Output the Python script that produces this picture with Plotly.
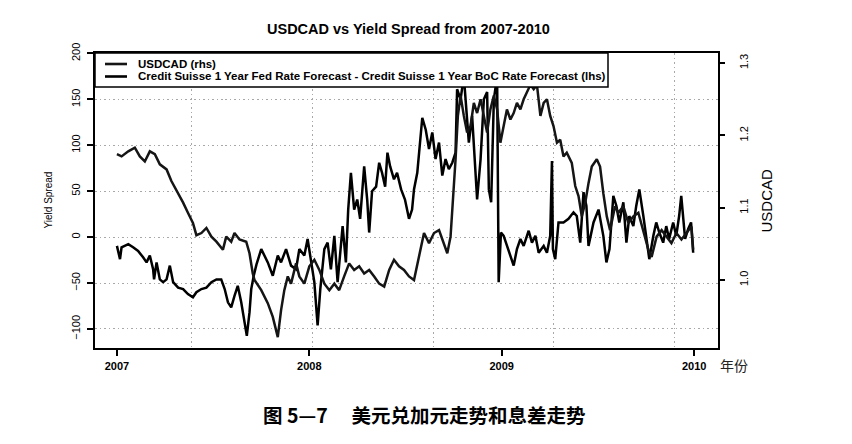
import plotly.graph_objects as go

# ---- data (time in decimal years) ----
spread_t = [2007.000, 2007.016, 2007.024, 2007.059, 2007.084, 2007.110, 2007.136, 2007.154, 2007.171, 2007.188,
            2007.193, 2007.206, 2007.223, 2007.240, 2007.258, 2007.275, 2007.292, 2007.318, 2007.344, 2007.369,
            2007.395, 2007.413, 2007.439, 2007.465, 2007.491, 2007.517, 2007.542, 2007.560, 2007.577, 2007.594,
            2007.611, 2007.628, 2007.646, 2007.663, 2007.675, 2007.689, 2007.698, 2007.711, 2007.725, 2007.750,
            2007.784, 2007.810, 2007.836, 2007.853, 2007.879, 2007.905, 2007.931, 2007.948, 2007.974, 2007.991,
            2008.009, 2008.026, 2008.043, 2008.057, 2008.078, 2008.095, 2008.112, 2008.130, 2008.147, 2008.173,
            2008.190, 2008.202, 2008.216, 2008.233, 2008.249, 2008.264, 2008.285, 2008.301, 2008.311, 2008.326,
            2008.347, 2008.363, 2008.378, 2008.394, 2008.406, 2008.420, 2008.440, 2008.456, 2008.477, 2008.497,
            2008.518, 2008.534, 2008.544, 2008.561, 2008.587, 2008.605, 2008.622, 2008.639, 2008.656, 2008.674,
            2008.691, 2008.708, 2008.725, 2008.743, 2008.760, 2008.768, 2008.786, 2008.803, 2008.829, 2008.846,
            2008.872, 2008.890, 2008.907, 2008.924, 2008.933, 2008.945, 2008.959, 2008.976, 2008.984, 2008.996,
            2009.010, 2009.027, 2009.045, 2009.062, 2009.079, 2009.097, 2009.114, 2009.140, 2009.157, 2009.175,
            2009.192, 2009.218, 2009.235, 2009.252, 2009.261, 2009.266, 2009.278, 2009.295, 2009.321, 2009.347,
            2009.373, 2009.390, 2009.408, 2009.425, 2009.440, 2009.451, 2009.477, 2009.503, 2009.528, 2009.544,
            2009.560, 2009.580, 2009.596, 2009.611, 2009.632, 2009.648, 2009.663, 2009.684, 2009.699, 2009.715,
            2009.736, 2009.751, 2009.767, 2009.788, 2009.803, 2009.819, 2009.839, 2009.855, 2009.870, 2009.891,
            2009.907, 2009.922, 2009.933, 2009.953, 2009.969, 2009.984, 2009.995]

spread_bp = [-9.5, -24, -11, -7.6, -11, -15, -22, -27.5, -20, -35,
             -46, -27.5, -46, -49, -46, -31, -49, -55, -56.5, -62,
             -65.5, -60, -56.5, -55, -49, -46, -46, -56.5, -71, -76.5,
             -64, -53, -71, -93, -107.5, -82, -56.5, -42, -30, -13,
             -27.5, -42, -20, -27.5, -13, -31, -35, -13, -20, -2,
             -27.5, -49, -96, -56.5, -13, -6, -35, 1.4, -49, 12,
             -27.5, 30, 70, 30, 41, 20, 77, 40, 5, 50,
             55, 81, 70, 55, 92, 77, 63, 70, 52, 41,
             20, 30, 52, 70, 130, 117, 96, 114, 85, 103,
             67, 85, 74, 81, 92, 161, 150, 175, 103, 132,
             41, 85, 150, 158, 52, 38, 150, 175, -49, 5,
             1.4, -9.5, -20, -31, -13, -2, -9.5, 7, -6, 1.4,
             -17, -9.5, -17, 1.4, 83, -13, -24, 16, 16, 20,
             27, 23, -6, 49, 34, -9.5, 16, 30, 1.4, -27.5,
             -13, 45, 34, 16, 38, -6, 23, 12, 34, 52,
             23, 1.4, -24, 1.4, 16, 5, -6, 12, -2, 16,
             1.4, 23, 45, -2, 9, 16, -17]

usdcad_t = [2007.000, 2007.024, 2007.059, 2007.093, 2007.119, 2007.145, 2007.171, 2007.197, 2007.223, 2007.258,
            2007.283, 2007.318, 2007.344, 2007.369, 2007.395, 2007.413, 2007.439, 2007.465, 2007.491, 2007.517,
            2007.551, 2007.568, 2007.594, 2007.611, 2007.637, 2007.672, 2007.689, 2007.706, 2007.715, 2007.750,
            2007.784, 2007.810, 2007.836, 2007.853, 2007.870, 2007.888, 2007.905, 2007.931, 2007.948, 2007.974,
            2008.000, 2008.026, 2008.052, 2008.078, 2008.104, 2008.130, 2008.155, 2008.181, 2008.207, 2008.233,
            2008.259, 2008.285, 2008.311, 2008.337, 2008.363, 2008.389, 2008.415, 2008.440, 2008.466, 2008.492,
            2008.518, 2008.544, 2008.570, 2008.596, 2008.622, 2008.648, 2008.674, 2008.699, 2008.717, 2008.734,
            2008.748, 2008.760, 2008.772, 2008.786, 2008.803, 2008.820, 2008.838, 2008.855, 2008.872, 2008.890,
            2008.907, 2008.924, 2008.941, 2008.959, 2008.976, 2008.993, 2009.010, 2009.027, 2009.045, 2009.062,
            2009.079, 2009.097, 2009.114, 2009.131, 2009.149, 2009.166, 2009.183, 2009.201, 2009.218, 2009.235,
            2009.252, 2009.269, 2009.287, 2009.304, 2009.321, 2009.338, 2009.364, 2009.382, 2009.399, 2009.416,
            2009.434, 2009.451, 2009.468, 2009.494, 2009.511, 2009.528, 2009.546, 2009.563, 2009.589, 2009.606,
            2009.632, 2009.658, 2009.684, 2009.710, 2009.736, 2009.762, 2009.779, 2009.805, 2009.831, 2009.856,
            2009.882, 2009.908, 2009.934, 2009.960, 2009.986, 2009.995]

usdcad = [1.174, 1.171, 1.178, 1.183, 1.171, 1.164, 1.178, 1.174, 1.160, 1.153,
          1.137, 1.120, 1.107, 1.093, 1.079, 1.062, 1.065, 1.072, 1.060, 1.053,
          1.042, 1.060, 1.053, 1.065, 1.056, 1.053, 1.037, 1.009, 1.000, 0.986,
          0.968, 0.949, 0.921, 0.958, 0.986, 1.005, 0.995, 1.023, 1.005, 0.995,
          1.019, 1.028, 1.014, 0.995, 0.986, 0.995, 0.986, 1.005, 1.023, 1.014,
          1.019, 1.009, 1.014, 1.005, 0.995, 0.991, 1.014, 1.028, 1.019, 1.014,
          1.005, 1.000, 1.032, 1.065, 1.051, 1.065, 1.069, 1.051, 1.037, 1.060,
          1.111, 1.167, 1.227, 1.255, 1.227, 1.204, 1.213, 1.245, 1.231, 1.250,
          1.227, 1.204, 1.236, 1.255, 1.236, 1.190, 1.213, 1.236, 1.222, 1.231,
          1.245, 1.236, 1.250, 1.259, 1.270, 1.264, 1.270, 1.227, 1.245, 1.250,
          1.227, 1.213, 1.190, 1.194, 1.171, 1.176, 1.162, 1.130, 1.116, 1.088,
          1.107, 1.134, 1.157, 1.167, 1.157, 1.120, 1.088, 1.069, 1.102, 1.093,
          1.102, 1.079, 1.088, 1.093, 1.069, 1.042, 1.032, 1.060, 1.069, 1.060,
          1.051, 1.065, 1.056, 1.065, 1.074, 1.042]

year_ticks = [2007, 2008, 2009, 2010]
year_labels = ["2007", "2008", "2009", "2010"]
spread_ticks = [-100, -50, 0, 50, 100, 150, 200]
usdcad_ticks = [1.0, 1.1, 1.2, 1.3]
usdcad_labels = ["1.0", "1.1", "1.2", "1.3"]
series_names = ["USDCAD (rhs)",
                "Credit Suisse 1 Year Fed Rate Forecast - Credit Suisse 1 Year BoC Rate Forecast (lhs)"]

FONT = "Liberation Sans, Arial, sans-serif"
CJK = "Noto Sans CJK SC"
W, H = 852, 444
L, R, T, B = 95, 718, 53, 348


def px_x(p):  # page pixel -> paper x
    return (p - L) / (R - L)


def px_y(p):  # page pixel -> paper y
    return (B - p) / (B - T)


LINE_W = 2.5
colors = ["#151515", "black"]

fig = go.Figure()
fig.add_trace(go.Scatter(x=usdcad_t, y=usdcad, mode="lines", name=series_names[0],
                         line=dict(color=colors[0], width=LINE_W), yaxis="y2", showlegend=False))
fig.add_trace(go.Scatter(x=spread_t, y=spread_bp, mode="lines", name=series_names[1],
                         line=dict(color=colors[1], width=LINE_W), yaxis="y", showlegend=False))

GRID_COLOR = "#a8a8a8"
GRID_DASH = "1.5px,3px"

# legend box (drawn above the lines, like the R legend with white background)
shapes = [
    dict(type="rect", xref="paper", yref="paper", x0=0, x1=px_x(608), y0=px_y(87), y1=1,
         fillcolor="white", line=dict(color="black", width=1.5), layer="above"),
]
annotations = []
for i, (name, yy) in enumerate(zip(series_names, [64, 76.5])):
    shapes.append(dict(type="line", xref="paper", yref="paper", x0=px_x(105), x1=px_x(127),
                       y0=px_y(yy), y1=px_y(yy), line=dict(color=colors[i], width=2.6), layer="above"))
    annotations.append(dict(text="<b>%s</b>" % name, xref="paper", yref="paper", x=px_x(136), y=px_y(yy),
                            xanchor="left", yanchor="middle", showarrow=False,
                            font=dict(size=11.5, family=FONT, color="black")))

annotations += [
    dict(text="<b>USDCAD vs Yield Spread from 2007-2010</b>", xref="paper", yref="paper",
         x=px_x(408), y=px_y(29), xanchor="center", yanchor="middle", showarrow=False,
         font=dict(size=14.5, family=FONT, color="black")),
    dict(text="Yield Spread", xref="paper", yref="paper", x=px_x(48), y=0.5,
         textangle=-90, showarrow=False, xanchor="center", yanchor="middle",
         font=dict(size=10, family=FONT)),
    dict(text="USDCAD", xref="paper", yref="paper", x=px_x(766), y=0.5,
         textangle=-90, showarrow=False, xanchor="center", yanchor="middle",
         font=dict(size=15, family=FONT)),
    dict(text="年份", xref="paper", yref="paper", x=px_x(734), y=px_y(365),
         showarrow=False, xanchor="center", yanchor="middle",
         font=dict(size=14, family=CJK, color="#222")),
    dict(text="<b>图 5—7　 美元兑加元走势和息差走势</b>", xref="paper", yref="paper",
         x=px_x(424), y=px_y(414), showarrow=False, xanchor="center", yanchor="middle",
         font=dict(size=19.5, family=CJK, color="black")),
]

fig.update_layout(
    width=W, height=H,
    margin=dict(l=L, r=W - R, t=T, b=H - B, autoexpand=False),
    paper_bgcolor="white", plot_bgcolor="white",
    font=dict(family=FONT, color="black", size=11),
    showlegend=False,
    xaxis=dict(range=[2006.886, 2010.124], tickmode="array", automargin=False,
               tickvals=year_ticks, ticktext=["<b>%s</b>" % s for s in year_labels],
               ticks="outside", ticklen=6, tickwidth=1.5, tickcolor="black",
               ticklabelstandoff=1,
               showline=True, linecolor="black", linewidth=1.5, mirror=True,
               showgrid=False, zeroline=False,
               tickfont=dict(size=11, family=FONT),
               minor=dict(tick0=2007.389, dtick=0.627, showgrid=True, ticks="",
                          gridcolor=GRID_COLOR, gridwidth=1, griddash=GRID_DASH)),
    yaxis=dict(range=[-120.7, 200.5], tickmode="array", tickvals=spread_ticks, automargin=False,
               tickangle=-90, ticks="outside", ticklen=6, tickwidth=1.5, tickcolor="black",
               ticklabelstandoff=3,
               showline=True, linecolor="black", linewidth=1.5, mirror=True,
               showgrid=True, gridcolor=GRID_COLOR, gridwidth=1, griddash=GRID_DASH,
               zeroline=False, tickfont=dict(size=11, family=FONT)),
    yaxis2=dict(range=[0.906, 1.314], overlaying="y", side="right", tickmode="array", automargin=False,
                tickvals=usdcad_ticks, ticktext=usdcad_labels,
                tickangle=-90, ticks="outside", ticklen=6, tickwidth=1.5, tickcolor="black",
                ticklabelstandoff=10,
                showline=False, showgrid=False, zeroline=False,
                tickfont=dict(size=11, family=FONT)),
    shapes=shapes,
    annotations=annotations,
)

fig.write_html("out.html", config={"displayModeBar": False},
               post_script="document.body.style.margin='0';")
